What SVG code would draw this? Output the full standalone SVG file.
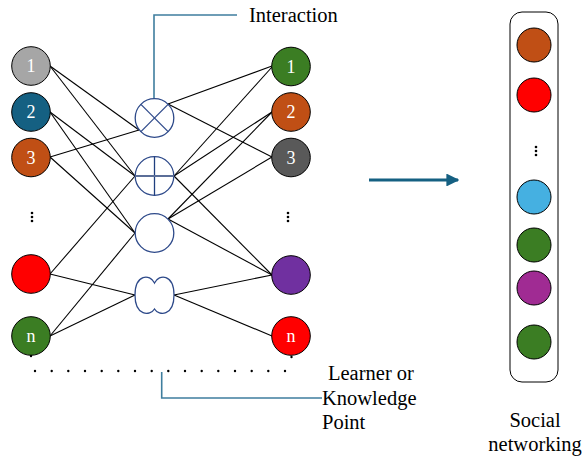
<svg xmlns="http://www.w3.org/2000/svg" width="583" height="458" viewBox="0 0 583 458">
<defs>
<style>
.nd{stroke:#000;stroke-width:1}
.lb{font-family:"Liberation Serif","Times New Roman",serif;font-size:18px;fill:#fff;text-anchor:middle}
.tx{font-family:"Liberation Serif","Times New Roman",serif;font-size:20.5px;fill:#000}
.ln{stroke:#000;stroke-width:1.1;fill:none}
.op{stroke:#2E4A8A;stroke-width:1.3;fill:#fff}
.co{stroke:#3F7E9E;stroke-width:1.6;fill:none}
.dt{fill:#000}
</style>
<marker id="ah" viewBox="0 0 10 10" refX="9" refY="5" markerWidth="4.3" markerHeight="4.3" orient="auto" markerUnits="strokeWidth">
<path d="M0,0 L10,5 L0,10 Z" fill="#156082"/>
</marker>
</defs>
<rect width="583" height="458" fill="#fff"/>

<g id="connectors">
<line class="ln" x1="50" y1="66" x2="139" y2="130"/>
<line class="ln" x1="50" y1="66" x2="135" y2="176"/>
<line class="ln" x1="50" y1="112" x2="135" y2="176"/>
<line class="ln" x1="50" y1="112" x2="135" y2="233"/>
<line class="ln" x1="50" y1="157" x2="139" y2="130"/>
<line class="ln" x1="50" y1="157" x2="135" y2="233"/>
<line class="ln" x1="50" y1="274" x2="135" y2="176"/>
<line class="ln" x1="50" y1="274" x2="135" y2="295"/>
<line class="ln" x1="50" y1="336" x2="135" y2="233"/>
<line class="ln" x1="50" y1="336" x2="135" y2="295"/>
<line class="ln" x1="168" y1="104" x2="272" y2="66"/>
<line class="ln" x1="168" y1="104" x2="272" y2="157"/>
<line class="ln" x1="174" y1="176" x2="272" y2="67"/>
<line class="ln" x1="174" y1="176" x2="272" y2="112"/>
<line class="ln" x1="174" y1="176" x2="272" y2="275"/>
<line class="ln" x1="168" y1="219" x2="272" y2="112"/>
<line class="ln" x1="168" y1="219" x2="272" y2="157"/>
<line class="ln" x1="168" y1="219" x2="272" y2="275"/>
<line class="ln" x1="174" y1="295" x2="272" y2="275"/>
<line class="ln" x1="174" y1="295" x2="272" y2="336"/>
<polyline class="co" points="154,99 154,15 237,15"/>
<polyline class="co" points="161.7,372 161.7,398 322,398"/>
<line x1="369" y1="180" x2="458" y2="180" stroke="#156082" stroke-width="3" marker-end="url(#ah)"/>
</g>

<g id="left-nodes">
<g id="L1"><circle class="nd" cx="31" cy="66" r="19.3" fill="#A6A6A6"/><text class="lb" x="31" y="72">1</text></g>
<g id="L2"><circle class="nd" cx="31" cy="112" r="19.3" fill="#156082"/><text class="lb" x="31" y="118">2</text></g>
<g id="L3"><circle class="nd" cx="31" cy="157.5" r="19.3" fill="#C04F15"/><text class="lb" x="31" y="164">3</text></g>
<g id="Ldots"><circle class="dt" cx="32" cy="213" r="1.3"/><circle class="dt" cx="32" cy="217" r="1.3"/><circle class="dt" cx="32" cy="221" r="1.3"/></g>
<g id="L4"><circle class="nd" cx="31" cy="274" r="19.3" fill="#FF0000"/></g>
<g id="Ln"><circle class="nd" cx="31" cy="336" r="19.3" fill="#3B7D23"/><text class="lb" x="31" y="342">n</text></g>
</g>

<g id="ops">
<g id="op-x"><circle class="op" cx="154.5" cy="118" r="19.3"/><line x1="140.9" y1="104.4" x2="168.1" y2="131.6" stroke="#2E4A8A" stroke-width="1.3"/><line x1="168.1" y1="104.4" x2="140.9" y2="131.6" stroke="#2E4A8A" stroke-width="1.3"/></g>
<g id="op-plus"><circle class="op" cx="154.5" cy="176" r="19.3"/><line x1="154.5" y1="156.7" x2="154.5" y2="195.3" stroke="#1F3F7F" stroke-width="1.3"/><line x1="135.2" y1="176" x2="173.8" y2="176" stroke="#5B6E98" stroke-width="2"/></g>
<g id="op-empty"><circle class="op" cx="154.5" cy="233" r="19.3"/></g>
<g id="op-peanut"><path class="op" d="M154.5,283 C150,273.5 135,274 135,295 C135,316 150,316.5 154.5,309 C159,316.5 174,316 174,295 C174,274 159,273.5 154.5,283 Z"/></g>
</g>

<g id="right-nodes">
<g id="R1"><circle class="nd" cx="291" cy="66.5" r="19.3" fill="#3B7D23"/><text class="lb" x="291" y="73">1</text></g>
<g id="R2"><circle class="nd" cx="291" cy="112" r="19.3" fill="#C04F15"/><text class="lb" x="291" y="118">2</text></g>
<g id="R3"><circle class="nd" cx="291" cy="157.5" r="19.3" fill="#595959"/><text class="lb" x="291" y="164">3</text></g>
<g id="Rdots"><circle class="dt" cx="288" cy="213" r="1.3"/><circle class="dt" cx="288" cy="217" r="1.3"/><circle class="dt" cx="288" cy="221" r="1.3"/></g>
<g id="R4"><circle class="nd" cx="291" cy="275" r="19.3" fill="#7030A0"/></g>
<g id="Rn"><circle class="nd" cx="291" cy="336" r="19.3" fill="#FF0000"/><text class="lb" x="291" y="342">n</text></g>
</g>

<g id="dot-row">
<circle class="dt" cx="31" cy="356" r="1.2"/><circle class="dt" cx="291.5" cy="357" r="1.2"/>
<circle class="dt" cx="35" cy="371" r="1.2"/><circle class="dt" cx="51.7" cy="371" r="1.2"/><circle class="dt" cx="68.3" cy="371" r="1.2"/><circle class="dt" cx="85" cy="371" r="1.2"/><circle class="dt" cx="101.7" cy="371" r="1.2"/><circle class="dt" cx="118.3" cy="371" r="1.2"/><circle class="dt" cx="135" cy="371" r="1.2"/><circle class="dt" cx="151.7" cy="371" r="1.2"/><circle class="dt" cx="168.3" cy="371" r="1.2"/><circle class="dt" cx="185" cy="371" r="1.2"/><circle class="dt" cx="201.7" cy="371" r="1.2"/><circle class="dt" cx="218.3" cy="371" r="1.2"/><circle class="dt" cx="235" cy="371" r="1.2"/><circle class="dt" cx="251.7" cy="371" r="1.2"/><circle class="dt" cx="268.3" cy="371" r="1.2"/><circle class="dt" cx="285" cy="371" r="1.2"/>
</g>

<g id="labels">
<text class="tx" x="249" y="22">Interaction</text>
<text class="tx" x="328" y="380">Learner or</text>
<text class="tx" x="322" y="405">Knowledge</text>
<text class="tx" x="322" y="429">Point</text>
<text class="tx" x="535" y="427" text-anchor="middle">Social</text>
<text class="tx" x="535" y="451" text-anchor="middle">networking</text>
</g>

<g id="social-column">
<rect x="510" y="12" width="48" height="370" rx="12" fill="#fff" stroke="#000" stroke-width="1"/>
<circle class="nd" cx="534" cy="45" r="17" fill="#C04F15"/>
<circle class="nd" cx="534" cy="95" r="17" fill="#FF0000"/>
<circle class="dt" cx="536" cy="147" r="1.3"/><circle class="dt" cx="536" cy="151" r="1.3"/><circle class="dt" cx="536" cy="155" r="1.3"/>
<circle class="nd" cx="534" cy="197" r="17" fill="#45B0E1"/>
<circle class="nd" cx="534" cy="245" r="17" fill="#3B7D23"/>
<circle class="nd" cx="534" cy="288" r="17" fill="#A02B93"/>
<circle class="nd" cx="534" cy="342" r="17" fill="#3B7D23"/>
</g>
</svg>
